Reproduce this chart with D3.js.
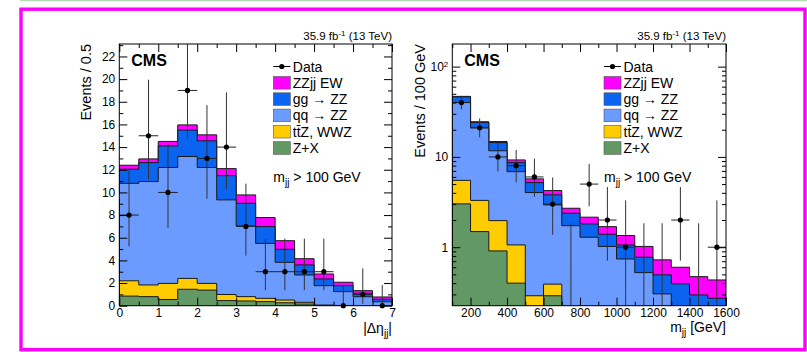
<!DOCTYPE html>
<html><head><meta charset="utf-8">
<script src="https://cdn.jsdelivr.net/npm/d3@7"></script>
<style>
body{margin:0;background:#fff}
svg{display:block}
text{font-family:"Liberation Sans",Arial,Helvetica,sans-serif;fill:#000}
</style>
</head><body>
<svg id="c" width="807" height="352"></svg>
<script>
// ---------------- data ----------------
const processNames = ["Z+X", "tt\u0304Z, WWZ", "qq \u2192 ZZ", "gg \u2192 ZZ", "ZZjj EW"];
const processColors = ["#629864", "#ffcc00", "#6b9bff", "#0a64f0", "#ff00ff"];

// |Delta eta_jj| panel (bins of 0.5)
const etaEdges = [0,0.5,1,1.5,2,2.5,3,3.5,4,4.5,5,5.5,6,6.5,7];
const etaZX   = [0.85,0.8,0.55,1.45,1.38,0.45,0.42,0.36,0.26,0.15,0.03,0,0,0];
const etaTTZ  = [1.35,1.03,1.42,0.96,0.59,0.54,0.38,0.29,0.24,0.15,0.02,0.02,0,0];
const etaQQZZ = [8.6,9.13,10.23,10.76,10.23,8.35,6.24,4.85,3.33,2.41,1.72,1.22,0.79,0.35];
const etaGGZZ = [1.25,1.67,1.9,2.33,2.35,2.14,2.0,1.48,1.15,0.89,0.59,0.53,0.3,0.21];
const etaEW   = [0.35,0.33,0.4,0.46,0.53,0.62,0.74,0.8,0.76,0.55,0.44,0.3,0.24,0.21];
const etaData  = [8,15,10,19,13,14,7,3,3,3,3,0,1,0];
const etaErrLo = [2.77,3.83,3.11,4.3,3.56,3.7,2.58,1.63,1.63,1.63,1.63,0,0.83,0];
const etaErrHi = [3.94,4.95,4.27,5.43,4.7,4.83,3.77,2.92,2.92,2.92,2.92,1.84,2.3,1.84];
const etaXTicks = [0,1,2,3,4,5,6,7];
const etaXMinor = [0.5,1.5,2.5,3.5,4.5,5.5,6.5];
const etaYTicks = [0,2,4,6,8,10,12,14,16,18,20,22];
const etaYMinor = [1,3,5,7,9,11,13,15,17,19,21,23];

// m_jj panel (bins of 100 GeV)
const mjjEdges = [100,200,300,400,500,600,700,800,900,1000,1100,1200,1300,1400,1500,1600];
const mjjZX   = [3.02,1.49,0.91,0.40,0.1,0.29,0,0,0,0,0,0,0,0,0];
const mjjTTZ  = [2.48,1.81,1.06,0.66,0.19,0.10,0.04,0.03,0.02,0.01,0.01,0,0,0,0];
const mjjQQZZ = [34.5,17.7,9.73,5.81,3.74,2.55,1.69,1.26,1.0,0.73,0.513,0.304,0.2,0.16,0.14];
const mjjGGZZ = [6.3,3.1,2.7,1.78,1.17,0.86,0.65,0.52,0.37,0.318,0.252,0.19,0.193,0.136,0.132];
const mjjEW   = [0.5,0.4,0.4,0.61,0.51,0.44,0.32,0.34,0.3,0.29,0.245,0.23,0.207,0.176,0.162];
const mjjData  = [40,21,10,8,6,3,0,5,2,1,0,0,2,0,1];
const mjjErrLo = [6.3,4.55,3.11,2.77,2.38,1.63,0,2.16,1.29,0.83,0,0,1.29,0,0.83];
const mjjErrHi = [7.4,5.67,4.27,3.94,3.58,2.92,1.84,3.38,2.64,2.3,1.84,1.84,2.64,1.84,2.3];
const mjjXTicks = [200,400,600,800,1000,1200,1400,1600];
const mjjXMinor = [100,300,500,700,900,1100,1300,1500];
const mjjYTicks = [1,10,100];
const mjjYMinor = [0.3,0.4,0.5,0.6,0.7,0.8,0.9,2,3,4,5,6,7,8,9,20,30,40,50,60,70,80,90];

// ---------------- drawing ----------------
const svg = d3.select("#c");
svg.append("rect").attr("x",20).attr("y",0).attr("width",787).attr("height",1.3).attr("fill","#b3ddb3");
svg.append("rect").attr("x",21).attr("y",9.2).attr("width",784).attr("height",340.4)
  .attr("fill","none").attr("stroke","#ff00ff").attr("stroke-width",3.4);

function styleAxis(sel, fs){
  sel.select(".domain").remove();
  sel.selectAll(".tick line").attr("stroke","#000").attr("stroke-width",1);
  sel.selectAll(".tick text").attr("font-size",fs).attr("fill","#000")
    .attr("font-family",'"Liberation Sans",Arial,sans-serif');
}

function panel(cfg){
  const {x, y, x0, x1, y0, y1} = cfg;
  const g = svg.append("g");
  const clipId = cfg.id + "clip";
  svg.append("clipPath").attr("id",clipId).append("rect")
    .attr("x",x0).attr("y",y0).attr("width",x1-x0).attr("height",y1-y0);
  const fy = v => y(Math.max(v, cfg.floor));

  const keys = processNames;
  const rows = cfg.edges.slice(0,-1).map((e,i)=>{
    const o = {}; keys.forEach((k,j)=>o[k]=cfg.series[j][i]); return o;
  });
  const stacked = d3.stack().keys(keys)(rows);
  const pg = g.append("g").attr("clip-path",`url(#${clipId})`);
  // draw cumulative histograms from top to bottom (ROOT THStack style)
  for (let k = stacked.length-1; k >= 0; k--){
    const layer = stacked[k];
    const pts = [];
    layer.forEach((d,i)=>{ pts.push([cfg.edges[i], d[1]]); pts.push([cfg.edges[i+1], d[1]]); });
    pg.append("path")
      .attr("d", d3.area().x(p=>x(p[0])).y0(y1+2).y1(p=>fy(p[1]))(pts))
      .attr("fill", processColors[k]);
    const outline = [[cfg.edges[0], 0]].concat(pts).concat([[cfg.edges[cfg.edges.length-1], 0]]);
    pg.append("path")
      .attr("d", d3.line().x(p=>x(p[0])).y(p=>p[1]<=0 ? y1+2 : fy(p[1]))(outline))
      .attr("fill","none").attr("stroke","#1a1a1a").attr("stroke-width",1);
  }

  // data points
  const eg = g.append("g").attr("clip-path",`url(#${clipId})`);
  const mg = g.append("g");
  cfg.data.forEach((v,i)=>{
    const xc = x((cfg.edges[i]+cfg.edges[i+1])/2);
    const lo = v - cfg.errLo[i], hi = v + cfg.errHi[i];
    eg.append("line").attr("x1",xc).attr("x2",xc)
      .attr("y1", lo <= 0 ? y1+2 : fy(lo)).attr("y2", fy(hi))
      .attr("stroke","#333").attr("stroke-width",1);
    if (v > 0 || !cfg.log){
      eg.append("line").attr("x1",x(cfg.edges[i])).attr("x2",x(cfg.edges[i+1]))
        .attr("y1",fy(v)).attr("y2",fy(v)).attr("stroke","#222").attr("stroke-width",1);
      mg.append("circle").attr("cx",xc).attr("cy",v>0?fy(v):y1).attr("r",2.6).attr("fill","#000");
    }
  });

  // frame
  g.append("rect").attr("x",x0).attr("y",y0).attr("width",x1-x0).attr("height",y1-y0)
    .attr("fill","none").attr("stroke","#000").attr("stroke-width",1);

  // axes (ticks inward)
  const ax = g.append("g");
  const bx = ax.append("g").attr("transform",`translate(0,${y1})`)
    .call(d3.axisBottom(x).tickValues(cfg.xTicks).tickSize(-8).tickPadding(3).tickFormat(d3.format("d")));
  styleAxis(bx, "12px");
  styleAxis(ax.append("g").attr("transform",`translate(0,${y1})`)
    .call(d3.axisBottom(x).tickValues(cfg.xMinor).tickSize(-4).tickFormat(()=>"")), "12px");
  styleAxis(ax.append("g").attr("transform",`translate(0,${y0})`)
    .call(d3.axisTop(x).tickValues(cfg.xTicks).tickSize(-8).tickFormat(()=>"")), "12px");
  styleAxis(ax.append("g").attr("transform",`translate(0,${y0})`)
    .call(d3.axisTop(x).tickValues(cfg.xMinor).tickSize(-4).tickFormat(()=>"")), "12px");

  const ly = ax.append("g").attr("transform",`translate(${x0},0)`)
    .call(d3.axisLeft(y).tickValues(cfg.yTicks).tickSize(-8).tickPadding(4)
      .tickFormat(d=> d===100 ? "10" : String(d)));
  styleAxis(ly, "12px");
  if (cfg.log){
    ly.selectAll(".tick text").filter(d=>d===100)
      .append("tspan").attr("dy","-0.5em").attr("font-size","8px").text("2");
  }
  styleAxis(ax.append("g").attr("transform",`translate(${x0},0)`)
    .call(d3.axisLeft(y).tickValues(cfg.yMinor).tickSize(-4).tickFormat(()=>"")), "12px");
  styleAxis(ax.append("g").attr("transform",`translate(${x1},0)`)
    .call(d3.axisRight(y).tickValues(cfg.yTicks).tickSize(-8).tickFormat(()=>"")), "12px");
  styleAxis(ax.append("g").attr("transform",`translate(${x1},0)`)
    .call(d3.axisRight(y).tickValues(cfg.yMinor).tickSize(-4).tickFormat(()=>"")), "12px");

  // texts
  const lumi = g.append("text").attr("x",x1).attr("y",40).attr("text-anchor","end").attr("font-size","11.5px");
  lumi.append("tspan").text("35.9 fb");
  lumi.append("tspan").attr("dy",-4).attr("font-size","8px").text("-1");
  lumi.append("tspan").attr("dy",4).text(" (13 TeV)");

  g.append("text").attr("x",x0+12).attr("y",66).attr("font-size","16px").attr("font-weight","bold").text("CMS");

  // legend
  const lx = cfg.lx, rowY = [66.5, 82.8, 99.1, 115.4, 131.7, 148];
  g.append("line").attr("x1",lx).attr("x2",lx+17).attr("y1",rowY[0]).attr("y2",rowY[0]).attr("stroke","#000");
  g.append("circle").attr("cx",lx+8.5).attr("cy",rowY[0]).attr("r",2.6).attr("fill","#000");
  g.append("text").attr("x",lx+19.5).attr("y",rowY[0]+5).attr("font-size","14px").text("Data");
  for (let r = 1; r <= 5; r++){
    const k = 5 - r;
    g.append("rect").attr("x",lx).attr("y",rowY[r]-6.3).attr("width",17).attr("height",12.6)
      .attr("fill",processColors[k]).attr("stroke","#555").attr("stroke-width",0.6);
    g.append("text").attr("x",lx+19.5).attr("y",rowY[r]+5).attr("font-size","14px").text(processNames[k]);
  }
  const cut = g.append("text").attr("x",lx).attr("y",182).attr("font-size","14px");
  cut.append("tspan").text("m");
  cut.append("tspan").attr("dy",4).attr("font-size","10px").text("jj");
  cut.append("tspan").attr("dy",-4).text(" > 100 GeV");

  // axis titles
  g.append("text").attr("transform",`translate(${cfg.ytX},${y0}) rotate(-90)`)
    .attr("text-anchor","end").attr("font-size","14.5px").text(cfg.yTitle);
  const xt = g.append("text").attr("x",x1).attr("y",cfg.xtY).attr("text-anchor","end").attr("font-size","14px");
  cfg.xTitle.forEach(p=>{
    const t = xt.append("tspan").text(p.t);
    if (p.sub) t.attr("dy",4).attr("font-size","10px");
    if (p.back) t.attr("dy",-4);
  });
}

// left panel
const xEta = d3.scaleLinear().domain([0,7]).range([119.3,392]);
const yEta = d3.scaleLinear().domain([0,23.1]).range([305.7,44]);
panel({id:"eta", x:xEta, y:yEta, x0:119.3, x1:392, y0:44, y1:305.7, floor:0, log:false,
  edges:etaEdges, series:[etaZX,etaTTZ,etaQQZZ,etaGGZZ,etaEW],
  data:etaData, errLo:etaErrLo, errHi:etaErrHi,
  xTicks:etaXTicks, xMinor:etaXMinor, yTicks:etaYTicks, yMinor:etaYMinor,
  lx:273.3, ytX:91, yTitle:"Events / 0.5", xtY:333,
  xTitle:[{t:"|\u0394\u03b7"},{t:"jj",sub:true},{t:"|",back:true}]});

// right panel
const xMjj = d3.scaleLinear().domain([100,1600]).range([452.3,726]);
const yMjj = d3.scaleLog().domain([0.225,178]).range([305.7,44]);
panel({id:"mjj", x:xMjj, y:yMjj, x0:452.3, x1:726, y0:44, y1:305.7, floor:0.05, log:true,
  edges:mjjEdges, series:[mjjZX,mjjTTZ,mjjQQZZ,mjjGGZZ,mjjEW],
  data:mjjData, errLo:mjjErrLo, errHi:mjjErrHi,
  xTicks:mjjXTicks, xMinor:mjjXMinor, yTicks:mjjYTicks, yMinor:mjjYMinor,
  lx:604, ytX:425, yTitle:"Events / 100 GeV", xtY:332,
  xTitle:[{t:"m"},{t:"jj",sub:true},{t:" [GeV]",back:true}]});
</script>
</body></html>
